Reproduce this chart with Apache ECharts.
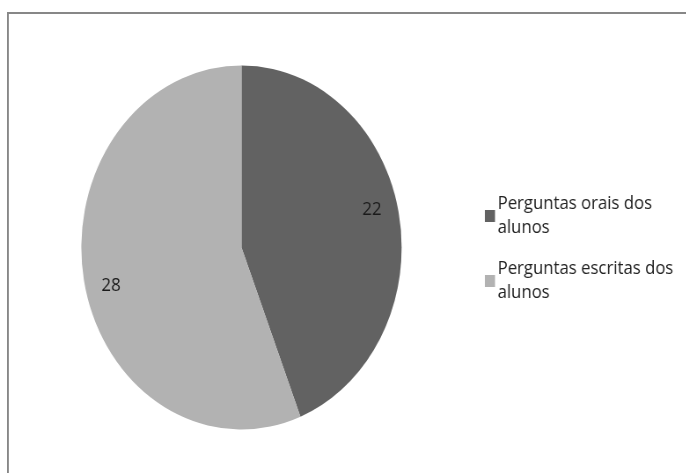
<!DOCTYPE html>
<html>
<head>
<meta charset="utf-8">
<script src="https://cdn.jsdelivr.net/npm/echarts@6/dist/echarts.min.js"></script>
<style>
  html, body { margin: 0; padding: 0; background: #fff; overflow: hidden; }
  #wrap { width: 686px; height: 473px; overflow: hidden; position: relative; }
  #chart { width: 780px; height: 473px; transform: scaleX(0.88); transform-origin: 0 0; position: absolute; left: 0; top: 0; }
</style>
</head>
<body>
<div id="wrap"><div id="chart"></div></div>
<script>
const categories = ['Perguntas orais dos alunos', 'Perguntas escritas dos alunos'];
const values = [22, 28];
const colors = ['#626262', '#b2b2b2'];

const chart = echarts.init(document.getElementById('chart'), null, { renderer: 'canvas' });
const pieData = categories.map((name, i) => ({ name: name, value: values[i], itemStyle: { color: colors[i] } }));
const labelData = categories.map((name, i) => ({ name: name, value: values[i] }));
const FONT = '"Open Sans", "Noto Sans", sans-serif';

chart.setOption({
  animation: false,
  graphic: [{
    type: 'rect',
    shape: { x: 9, y: 13, width: 900, height: 600 },
    style: { fill: 'none', stroke: '#878787', lineWidth: 2 },
    silent: true
  }],
  legend: {
    orient: 'vertical',
    left: 551,
    top: 192,
    padding: 0,
    itemWidth: 11.5,
    itemHeight: 12,
    itemGap: 17,
    icon: 'rect',
    selectedMode: false,
    data: categories,
    formatter: name => name.replace(/ (\S+)$/, '\n$1'),
    textStyle: { fontFamily: FONT, fontSize: 19, lineHeight: 24, color: '#222', padding: [0, 0, 0, -2] }
  },
  series: [{
    type: 'pie',
    center: [274.4, 247.5],
    radius: [0, 182],
    startAngle: 90,
    clockwise: true,
    silent: true,
    label: { show: false },
    labelLine: { show: false },
    itemStyle: { borderWidth: 0 },
    emphasis: { disabled: true },
    data: pieData
  }, {
    type: 'pie',
    center: [274.4, 247.5],
    radius: [118, 182],
    startAngle: 93.5,
    clockwise: true,
    silent: true,
    itemStyle: { color: 'transparent', borderWidth: 0 },
    label: { show: true, position: 'inside', formatter: '{c}', fontFamily: FONT, fontSize: 19, color: '#1a1a1a' },
    labelLine: { show: false },
    emphasis: { disabled: true },
    data: labelData
  }]
});
</script>
</body>
</html>
